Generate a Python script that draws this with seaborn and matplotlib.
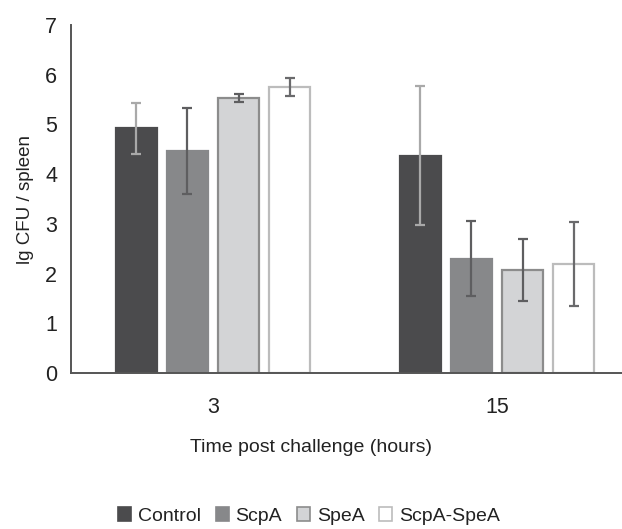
import numpy as np
import pandas as pd
import matplotlib
matplotlib.use("Agg")
import matplotlib.pyplot as plt
from matplotlib.patches import Patch
import seaborn as sns

times = ["3", "15"]
groups = ["Control", "ScpA", "SpeA", "ScpA-SpeA"]
means_3 = [4.92, 4.47, 5.53, 5.75]
means_15 = [4.37, 2.30, 2.07, 2.19]
err_3 = [0.52, 0.87, 0.08, 0.18]
err_15 = [1.40, 0.76, 0.63, 0.84]

fills = ["#4b4b4d", "#87888a", "#d3d4d6", "#ffffff"]
edges = ["#4b4b4d", "#87888a", "#8c8c8c", "#bcbcbc"]
ecolors = ["#a9a9a9", "#5e5e60", "#5e5e60", "#6a6a6c"]

rows = []
for t, ms, es in [(times[0], means_3, err_3), (times[1], means_15, err_15)]:
    for g, m, e in zip(groups, ms, es):
        rows.append({"time": t, "group": g, "value": m, "err": e})
df = pd.DataFrame(rows)

sns.set_theme(style="white")
plt.rcParams["font.family"] = ["Liberation Sans Narrow", "Liberation Sans", "DejaVu Sans"]

TICK_FS = 15.5
LAB_FS = 14
fig = plt.figure(figsize=(6.22, 5.29), dpi=100)
ax = fig.add_axes([71 / 622, 156 / 529, 568 / 622, 348 / 529])

sns.barplot(data=df, x="time", y="value", hue="group", order=times,
            hue_order=groups, palette=fills, errorbar=None, width=0.72,
            gap=0.2, ax=ax, legend=False, linewidth=1.6)

for i, g in enumerate(groups):
    cont = ax.containers[i]
    sub = df[df["group"] == g].set_index("time").loc[times]
    xs = []
    for bar in cont:
        bar.set_edgecolor(edges[i])
        bar.set_facecolor(fills[i])
        xs.append(bar.get_x() + bar.get_width() / 2)
    ax.errorbar(xs, sub["value"].values, yerr=sub["err"].values, fmt="none",
                ecolor=ecolors[i], elinewidth=1.6, capsize=3.4, capthick=1.6,
                zorder=5)

ax.set_xlim(-0.5, 1.5)
ax.set_ylim(0, 7)
ax.set_yticks(range(0, 8))
ax.set_xlabel("Time post challenge (hours)", fontsize=LAB_FS, color="#222222")
ax.xaxis.set_label_coords((311 - 71) / 568, -(447 - 373) / 348)
ax.xaxis.label.set_verticalalignment("center")
ax.set_ylabel("lg CFU / spleen", fontsize=13.5, color="#222222")
ax.yaxis.set_label_coords((25 - 71) / 568, (373 - 200) / 348)
ax.yaxis.label.set_verticalalignment("center")
ax.tick_params(axis="y", direction="in", length=6, width=1.2, color="#555555",
               labelsize=TICK_FS, labelcolor="#222222", pad=10)
ax.tick_params(axis="x", length=0, labelsize=TICK_FS, labelcolor="#222222", pad=17)
for s in ["top", "right"]:
    ax.spines[s].set_visible(False)
for s in ["left", "bottom"]:
    ax.spines[s].set_color("#555555")
    ax.spines[s].set_linewidth(1.4)

handles = [Patch(facecolor=fills[i], edgecolor=edges[i], linewidth=1.2, label=g)
           for i, g in enumerate(groups)]
fig.legend(handles=handles, loc="center", bbox_to_anchor=(309 / 622, 1 - 516 / 529),
           ncol=4, frameon=False, fontsize=LAB_FS, handlelength=0.67, handleheight=0.67,
           handletextpad=0.35, columnspacing=0.76, labelcolor="#222222")

fig.savefig("out.png", dpi=100)
